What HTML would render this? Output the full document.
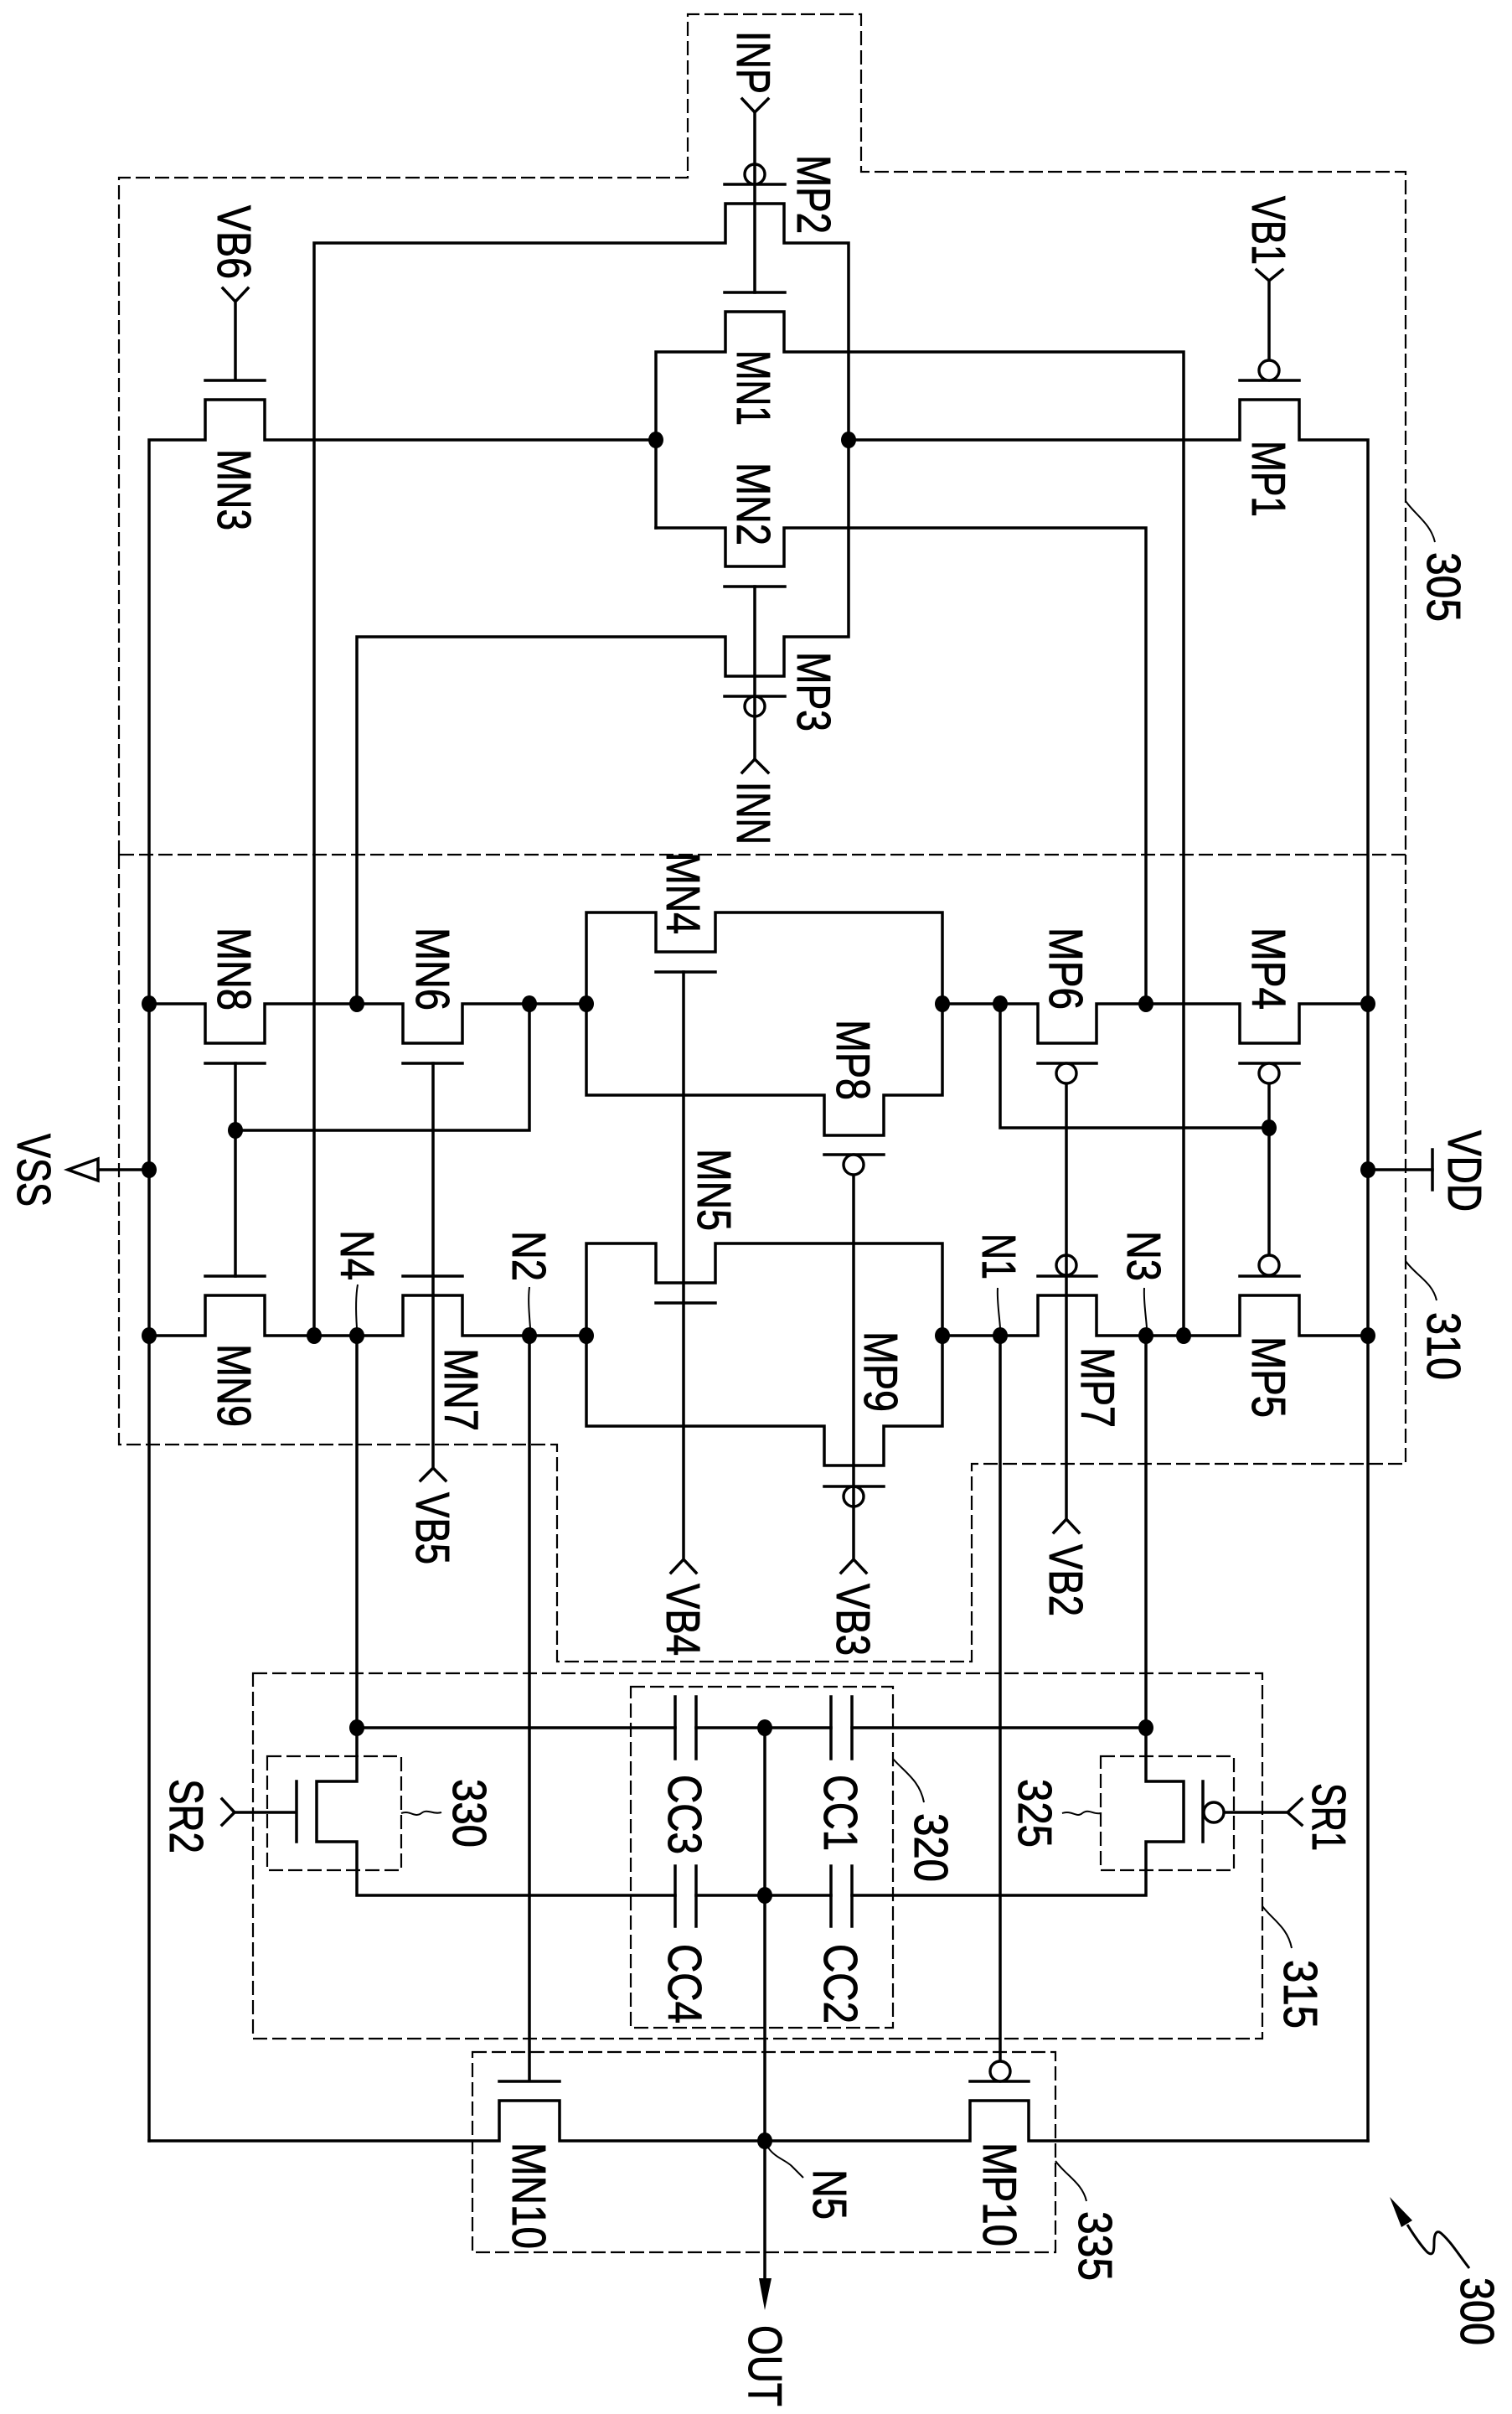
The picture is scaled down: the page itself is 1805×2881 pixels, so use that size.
<!DOCTYPE html>
<html><head><meta charset="utf-8"><style>
html,body{margin:0;padding:0;background:#fff;width:1805px;height:2881px;overflow:hidden}
svg{display:block}
text{font-family:"Liberation Sans",sans-serif;font-size:57px;fill:#000;stroke:#000;stroke-width:.9}
.w{fill:none;stroke:#000;stroke-width:3.5;stroke-linejoin:miter;stroke-linecap:square}
.d{fill:none;stroke:#000;stroke-width:2.2;stroke-dasharray:17 6}
.l{fill:none;stroke:#000;stroke-width:2}
.c{fill:#fff;stroke:#000;stroke-width:3.4}
.o{fill:none;stroke:#000;stroke-width:3.4}
</style></head><body>
<svg width="1805" height="2881" viewBox="0 0 1805 2881" xmlns="http://www.w3.org/2000/svg">
<!-- dashed boxes -->
<path class="d" d="M142 1020V212H821V17H1028V205H1678V1020H142"/>
<path class="d" d="M142 1020V1724H665V1983H1160V1747H1678V1020"/>
<rect class="d" x="302" y="1997" width="1205" height="436"/>
<rect class="d" x="753" y="2013" width="313" height="407"/>
<rect class="d" x="319" y="2096" width="160" height="136"/>
<rect class="d" x="1314" y="2096" width="159" height="136"/>
<rect class="d" x="564" y="2449" width="696" height="239"/>
<!-- input pair -->
<g class="w">
<path d="M375 1594V290H866V243H936V290H1013V760H936V807H866V760H426V1198"/>
<path d="M783 630V420H866V372H936V420H1413V1594"/>
<path d="M783 630H866V676H936V630H1368V1198"/>
<path d="M178 2555V525H245V477H316V525H783"/>
<path d="M1013 525H1480V477H1551V525H1633V2555"/>
<path d="M901 135V349M901 700V906"/>
<path d="M865 220H937M865 349H937M865 700H937M865 831H937"/>
<path d="M886 118L901 134L917 118M886 922L901 906L917 922"/>
<path d="M281 360V454M245 454H316M266 344L281 360L296 344"/>
<path d="M1515 335V430M1480 454H1551M1500 322L1515 335L1531 322"/>
<!-- current mirror top row -->
<path d="M178 1198H245V1245H316V1198H481V1245H552V1198H700"/>
<path d="M1125 1198H1239V1245H1309V1198H1480V1245H1551V1198H1633"/>
<path d="M245 1269H316M245 1523H316M481 1269H552M481 1523H552"/>
<path d="M1239 1269H1309M1480 1269H1551M1239 1523H1309M1480 1523H1551"/>
<path d="M632 1198V1349H281M281 1269V1523"/>
<path d="M517 1269V1752M502 1767L517 1752L532 1767"/>
<path d="M1194 1198V1346H1515M1515 1294V1498"/>
<path d="M1273 1293V1813M1258 1829L1273 1813L1288 1829"/>
<!-- MN4/MP8 -->
<path d="M700 1198V1089H783V1136H854V1089H1125V1307H1055V1355H984V1307H700V1198"/>
<path d="M783 1160H854M984 1378H1055"/>
<path d="M816 1160V1861M801 1877L816 1861L831 1877M783 1555H854"/>
<path d="M1019 1402V1861M1004 1877L1019 1861L1034 1877M984 1774H1055"/>
<!-- MN5/MP9 -->
<path d="M700 1594V1484H783V1531H854V1484H1125V1702H1055V1749H984V1702H700V1594"/>
<!-- bottom row -->
<path d="M178 1594H245V1546H316V1594H481V1546H552V1594H700"/>
<path d="M1125 1594H1239V1546H1309V1594H1480V1546H1551V1594H1633"/>
<!-- VDD/VSS -->
<path d="M117 1396H178M1633 1396H1710"/>
<path d="M1710 1372V1420" />
<path d="M117 1383L81 1396L117 1409Z"/>
<!-- compensation -->
<path d="M426 1594V2126H378V2198H426V2262H806M831 2262H992M1017 2262H1368V2198H1413V2126H1368V1594"/>
<path d="M426 2062H806M831 2062H992M1017 2062H1368"/>
<path d="M806 2025V2099M831 2025V2099M992 2025V2099M1017 2025V2099"/>
<path d="M806 2227V2299M831 2227V2299M992 2227V2299M1017 2227V2299"/>
<path d="M354 2126V2198M280 2163H354M265 2147L280 2163L265 2178"/>
<path d="M1436 2126V2198M1462 2163H1537M1554 2147L1537 2163L1554 2178"/>
<path d="M913 2062V2730"/>
<path d="M632 1594V2484M596 2484H668M1158 2484H1228M1194 1594V2460"/>
<path d="M178 2555H596V2507H668V2555H1158V2507H1228V2555H1633"/>
</g>
<path d="M906 2719H921L913 2757Z" fill="#000"/>
<!-- bubbles -->
<circle class="o" cx="901" cy="208" r="12"/>
<circle class="o" cx="901" cy="843" r="12"/>
<circle class="c" cx="1515" cy="442" r="12"/>
<circle class="c" cx="1515" cy="1281" r="12"/>
<circle class="c" cx="1515" cy="1510" r="12"/>
<circle class="c" cx="1273" cy="1281" r="12"/>
<circle class="o" cx="1273" cy="1510" r="12"/>
<circle class="c" cx="1019" cy="1390" r="12"/>
<circle class="o" cx="1019" cy="1786" r="12"/>
<circle class="c" cx="1449" cy="2163" r="12"/>
<circle class="c" cx="1194" cy="2472" r="12"/>
<!-- dots -->
<g fill="#000">
<ellipse cx="783" cy="525" rx="9" ry="10"/><ellipse cx="1013" cy="525" rx="9" ry="10"/>
<ellipse cx="178" cy="1198" rx="9" ry="10"/><ellipse cx="426" cy="1198" rx="9" ry="10"/><ellipse cx="632" cy="1198" rx="9" ry="10"/><ellipse cx="700" cy="1198" rx="9" ry="10"/>
<ellipse cx="1125" cy="1198" rx="9" ry="10"/><ellipse cx="1194" cy="1198" rx="9" ry="10"/><ellipse cx="1368" cy="1198" rx="9" ry="10"/><ellipse cx="1633" cy="1198" rx="9" ry="10"/>
<ellipse cx="281" cy="1349" rx="9" ry="10"/><ellipse cx="1515" cy="1346" rx="9" ry="10"/>
<ellipse cx="178" cy="1396" rx="9" ry="10"/><ellipse cx="1633" cy="1396" rx="9" ry="10"/>
<ellipse cx="178" cy="1594" rx="9" ry="10"/><ellipse cx="375" cy="1594" rx="9" ry="10"/><ellipse cx="426" cy="1594" rx="9" ry="10"/><ellipse cx="632" cy="1594" rx="9" ry="10"/><ellipse cx="700" cy="1594" rx="9" ry="10"/>
<ellipse cx="1125" cy="1594" rx="9" ry="10"/><ellipse cx="1194" cy="1594" rx="9" ry="10"/><ellipse cx="1368" cy="1594" rx="9" ry="10"/><ellipse cx="1413" cy="1594" rx="9" ry="10"/><ellipse cx="1633" cy="1594" rx="9" ry="10"/>
<ellipse cx="426" cy="2062" rx="9" ry="10"/><ellipse cx="913" cy="2062" rx="9" ry="10"/><ellipse cx="1368" cy="2062" rx="9" ry="10"/>
<ellipse cx="913" cy="2262" rx="9" ry="10"/><ellipse cx="913" cy="2555" rx="9" ry="10"/>
</g>
<!-- leaders -->
<path class="l" d="M1678 598C1690 615 1708 625 1713 647"/>
<path class="l" d="M1678 1505C1690 1522 1710 1530 1715 1552"/>
<path class="l" d="M427 1533C424 1550 425 1570 426 1585"/>
<path class="l" d="M632 1536C630 1552 632 1570 633 1585"/>
<path class="l" d="M1191 1537C1190 1552 1193 1570 1194 1585"/>
<path class="l" d="M1366 1537C1365 1552 1368 1570 1369 1585"/>
<path class="l" d="M479 2164C490 2160 495 2170 503 2164C510 2158 517 2166 527 2163"/>
<path class="l" d="M1268 2164C1280 2160 1285 2170 1292 2164C1300 2158 1305 2166 1314 2164"/>
<path class="l" d="M1066 2099C1080 2115 1098 2125 1103 2151"/>
<path class="l" d="M1507 2275C1520 2292 1537 2300 1542 2325"/>
<path class="l" d="M917 2563C925 2575 938 2578 945 2585L959 2599"/>
<path class="l" d="M1260 2579C1272 2596 1292 2605 1297 2627"/>
<path class="l" d="M1680 2655C1688 2668 1698 2682 1704 2688C1712 2694 1712 2684 1712 2676C1712 2666 1715 2661 1720 2665C1732 2675 1742 2692 1754 2707" style="stroke-width:3"/>
<path d="M1659 2622L1686 2650L1673 2658Z" fill="#000"/>
<!-- labels: baseline x, start y, length -->
<g>
<text transform="translate(880,37) rotate(90)" textLength="75" lengthAdjust="spacingAndGlyphs">INP</text>
<text transform="translate(952,185) rotate(90)" textLength="94" lengthAdjust="spacingAndGlyphs">MP2</text>
<text transform="translate(260,245) rotate(90)" textLength="88" lengthAdjust="spacingAndGlyphs">VB6</text>
<text transform="translate(1495,234) rotate(90)" textLength="82" lengthAdjust="spacingAndGlyphs">VB1</text>
<text transform="translate(880,418) rotate(90)" textLength="90" lengthAdjust="spacingAndGlyphs">MN1</text>
<text transform="translate(880,552) rotate(90)" textLength="99" lengthAdjust="spacingAndGlyphs">MN2</text>
<text transform="translate(260,536) rotate(90)" textLength="97" lengthAdjust="spacingAndGlyphs">MN3</text>
<text transform="translate(1495,526) rotate(90)" textLength="91" lengthAdjust="spacingAndGlyphs">MP1</text>
<text transform="translate(952,778) rotate(90)" textLength="95" lengthAdjust="spacingAndGlyphs">MP3</text>
<text transform="translate(880,933) rotate(90)" textLength="75" lengthAdjust="spacingAndGlyphs">INN</text>
<text transform="translate(1704,659) rotate(90)" textLength="83" lengthAdjust="spacingAndGlyphs">305</text>
<text transform="translate(796,1017) rotate(90)" textLength="98" lengthAdjust="spacingAndGlyphs">MN4</text>
<text transform="translate(260,1107) rotate(90)" textLength="99" lengthAdjust="spacingAndGlyphs">MN8</text>
<text transform="translate(497,1107) rotate(90)" textLength="99" lengthAdjust="spacingAndGlyphs">MN6</text>
<text transform="translate(1253,1107) rotate(90)" textLength="98" lengthAdjust="spacingAndGlyphs">MP6</text>
<text transform="translate(1495,1107) rotate(90)" textLength="98" lengthAdjust="spacingAndGlyphs">MP4</text>
<text transform="translate(999,1217) rotate(90)" textLength="96" lengthAdjust="spacingAndGlyphs">MP8</text>
<text transform="translate(833,1371) rotate(90)" textLength="98" lengthAdjust="spacingAndGlyphs">MN5</text>
<text transform="translate(21,1353) rotate(90)" textLength="87" lengthAdjust="spacingAndGlyphs">VSS</text>
<text transform="translate(1729,1349) rotate(90)" textLength="97" lengthAdjust="spacingAndGlyphs">VDD</text>
<text transform="translate(407,1468) rotate(90)" textLength="60" lengthAdjust="spacingAndGlyphs">N4</text>
<text transform="translate(612,1469) rotate(90)" textLength="60" lengthAdjust="spacingAndGlyphs">N2</text>
<text transform="translate(1173,1472) rotate(90)" textLength="55" lengthAdjust="spacingAndGlyphs">N1</text>
<text transform="translate(1346,1469) rotate(90)" textLength="60" lengthAdjust="spacingAndGlyphs">N3</text>
<text transform="translate(260,1604) rotate(90)" textLength="99" lengthAdjust="spacingAndGlyphs">MN9</text>
<text transform="translate(531,1609) rotate(90)" textLength="99" lengthAdjust="spacingAndGlyphs">MN7</text>
<text transform="translate(1032,1589) rotate(90)" textLength="96" lengthAdjust="spacingAndGlyphs">MP9</text>
<text transform="translate(1291,1608) rotate(90)" textLength="96" lengthAdjust="spacingAndGlyphs">MP7</text>
<text transform="translate(1495,1595) rotate(90)" textLength="97" lengthAdjust="spacingAndGlyphs">MP5</text>
<text transform="translate(1704,1566) rotate(90)" textLength="81" lengthAdjust="spacingAndGlyphs">310</text>
<text transform="translate(497,1781) rotate(90)" textLength="86" lengthAdjust="spacingAndGlyphs">VB5</text>
<text transform="translate(796,1890) rotate(90)" textLength="86" lengthAdjust="spacingAndGlyphs">VB4</text>
<text transform="translate(999,1890) rotate(90)" textLength="86" lengthAdjust="spacingAndGlyphs">VB3</text>
<text transform="translate(1253,1843) rotate(90)" textLength="86" lengthAdjust="spacingAndGlyphs">VB2</text>
<text transform="translate(203,2123) rotate(90)" textLength="89" lengthAdjust="spacingAndGlyphs">SR2</text>
<text transform="translate(1567,2128) rotate(90)" textLength="81" lengthAdjust="spacingAndGlyphs">SR1</text>
<text transform="translate(541,2123) rotate(90)" textLength="82" lengthAdjust="spacingAndGlyphs">330</text>
<text transform="translate(1216,2123) rotate(90)" textLength="82" lengthAdjust="spacingAndGlyphs">325</text>
<text transform="translate(798,2118) rotate(90)" textLength="95" lengthAdjust="spacingAndGlyphs">CC3</text>
<text transform="translate(984,2118) rotate(90)" textLength="91" lengthAdjust="spacingAndGlyphs">CC1</text>
<text transform="translate(1092,2164) rotate(90)" textLength="82" lengthAdjust="spacingAndGlyphs">320</text>
<text transform="translate(798,2320) rotate(90)" textLength="95" lengthAdjust="spacingAndGlyphs">CC4</text>
<text transform="translate(984,2320) rotate(90)" textLength="95" lengthAdjust="spacingAndGlyphs">CC2</text>
<text transform="translate(1533,2339) rotate(90)" textLength="82" lengthAdjust="spacingAndGlyphs">315</text>
<text transform="translate(612,2557) rotate(90)" textLength="127" lengthAdjust="spacingAndGlyphs">MN10</text>
<text transform="translate(1174,2557) rotate(90)" textLength="124" lengthAdjust="spacingAndGlyphs">MP10</text>
<text transform="translate(971,2589) rotate(90)" textLength="60" lengthAdjust="spacingAndGlyphs">N5</text>
<text transform="translate(1288,2639) rotate(90)" textLength="83" lengthAdjust="spacingAndGlyphs">335</text>
<text transform="translate(894,2775) rotate(90)" textLength="97" lengthAdjust="spacingAndGlyphs">OUT</text>
<text transform="translate(1744,2718) rotate(90)" textLength="81" lengthAdjust="spacingAndGlyphs">300</text>
</g>
</svg>
</body></html>
